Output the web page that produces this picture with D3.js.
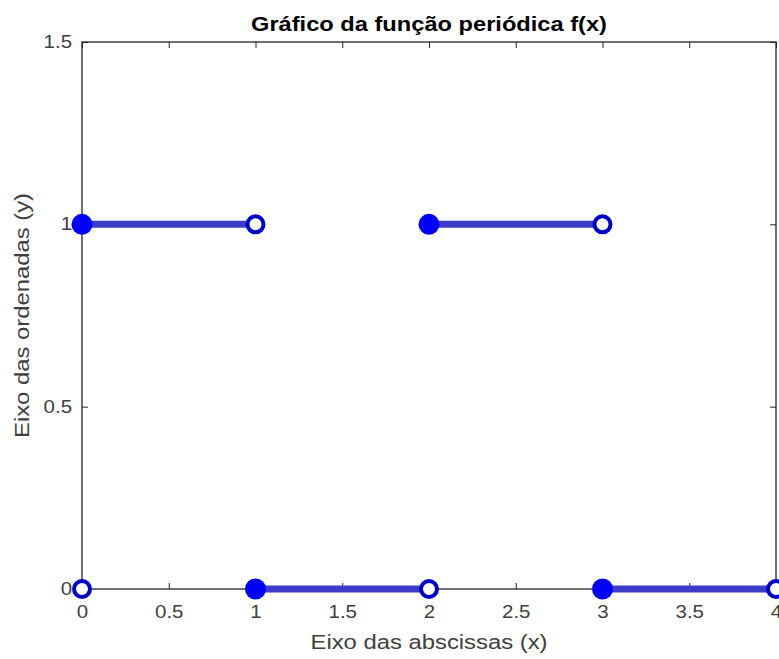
<!DOCTYPE html>
<html>
<head>
<meta charset="utf-8">
<script src="https://cdn.jsdelivr.net/npm/d3@7"></script>
<style>
  body { margin: 0; background: #fff; }
  text { font-family: "Liberation Sans", Arial, Helvetica, sans-serif; }
</style>
</head>
<body>
<div id="chart"></div>
<script>
// Gráfico da função periódica f(x)

// segments of the step function: y = level on [start, end)
const segStart = [0, 1, 2, 3];
const segEnd   = [1, 2, 3, 4];
const segLevel = [1, 0, 1, 0];

// filled (closed) end points
const closedX = [0, 1, 2, 3];
const closedY = [1, 0, 1, 0];

// open end points
const openX = [0, 1, 2, 3, 4];
const openY = [0, 1, 0, 1, 0];

const xTicks = [0, 0.5, 1, 1.5, 2, 2.5, 3, 3.5, 4];
const yTicks = [0, 0.5, 1, 1.5];

const W = 779, H = 659;
const margin = {top: 42, right: 3, bottom: 70, left: 82};
const w = W - margin.left - margin.right;
const h = H - margin.top - margin.bottom;
const stretch = 1.17;   // picture is a bit wider than tall

const svg = d3.select("#chart")
  .append("svg")
  .attr("width", W)
  .attr("height", H);

const x = d3.scaleLinear([0, 4], [0, w]);
const y = d3.scaleLinear([0, 1.5], [h, 0]);

const g = svg.append("g")
  .attr("transform", `translate(${margin.left},${margin.top})`);

const axisColor = "#262626";
const labelColor = "#404040";

function styleAxis(sel) {
  sel.select(".domain").remove();
  sel.selectAll(".tick line").attr("stroke", axisColor).attr("stroke-width", 1);
  sel.selectAll(".tick text")
    .attr("fill", labelColor)
    .style("font-size", "17.5px");
}

// bottom + top x axes
g.append("g")
  .attr("transform", `translate(0,${h})`)
  .call(d3.axisBottom(x).tickValues(xTicks).tickFormat(d3.format("")).tickSizeInner(-6).tickSizeOuter(0).tickPadding(17))
  .call(styleAxis)
  .selectAll(".tick text").attr("transform", `scale(${stretch},1)`);

g.append("g")
  .call(d3.axisTop(x).tickValues(xTicks).tickSizeInner(-6).tickSizeOuter(0).tickFormat(""))
  .call(styleAxis);

// left + right y axes
g.append("g")
  .call(d3.axisLeft(y).tickValues(yTicks).tickFormat(d3.format("")).tickSizeInner(-6).tickSizeOuter(0).tickPadding(8.5))
  .call(styleAxis)
  .selectAll(".tick text").attr("transform", `scale(${stretch},1)`);

g.append("g")
  .attr("transform", `translate(${w},0)`)
  .call(d3.axisRight(y).tickValues(yTicks).tickSizeInner(-6).tickSizeOuter(0).tickFormat(""))
  .call(styleAxis);

// box
g.append("rect")
  .attr("width", w)
  .attr("height", h)
  .attr("fill", "none")
  .attr("stroke", axisColor)
  .attr("stroke-width", 1.3);

// horizontal pieces
g.append("g")
  .selectAll("line")
  .data(segStart)
  .join("line")
    .attr("x1", (d, i) => x(d))
    .attr("x2", (d, i) => x(segEnd[i]))
    .attr("y1", (d, i) => y(segLevel[i]))
    .attr("y2", (d, i) => y(segLevel[i]))
    .attr("stroke", "#3c3cc8")
    .attr("stroke-width", 7);

// open circles
g.append("g")
  .selectAll("circle")
  .data(openX)
  .join("circle")
    .attr("cx", d => x(d))
    .attr("cy", (d, i) => y(openY[i]))
    .attr("r", 8)
    .attr("fill", "#fff")
    .attr("stroke", "#0000c8")
    .attr("stroke-width", 4);

// filled circles
g.append("g")
  .selectAll("circle")
  .data(closedX)
  .join("circle")
    .attr("cx", d => x(d))
    .attr("cy", (d, i) => y(closedY[i]))
    .attr("r", 10.5)
    .attr("fill", "#0000ff");

// titles
svg.append("text")
  .attr("x", margin.left + w / 2)
  .attr("y", 31)
  .attr("text-anchor", "middle")
  .attr("font-weight", "bold")
  .attr("fill", "#000")
  .style("font-size", "19.5px")
  .attr("textLength", 356)
  .attr("lengthAdjust", "spacingAndGlyphs")
  .text("Gráfico da função periódica f(x)");

svg.append("text")
  .attr("x", margin.left + w / 2)
  .attr("y", 649)
  .attr("text-anchor", "middle")
  .attr("fill", labelColor)
  .style("font-size", "20px")
  .attr("textLength", 237)
  .attr("lengthAdjust", "spacingAndGlyphs")
  .text("Eixo das abscissas (x)");

svg.append("text")
  .attr("transform", `translate(29,${margin.top + h / 2}) rotate(-90)`)
  .attr("text-anchor", "middle")
  .attr("fill", labelColor)
  .style("font-size", "20px")
  .attr("textLength", 245)
  .attr("lengthAdjust", "spacingAndGlyphs")
  .text("Eixo das ordenadas (y)");
</script>
</body>
</html>
